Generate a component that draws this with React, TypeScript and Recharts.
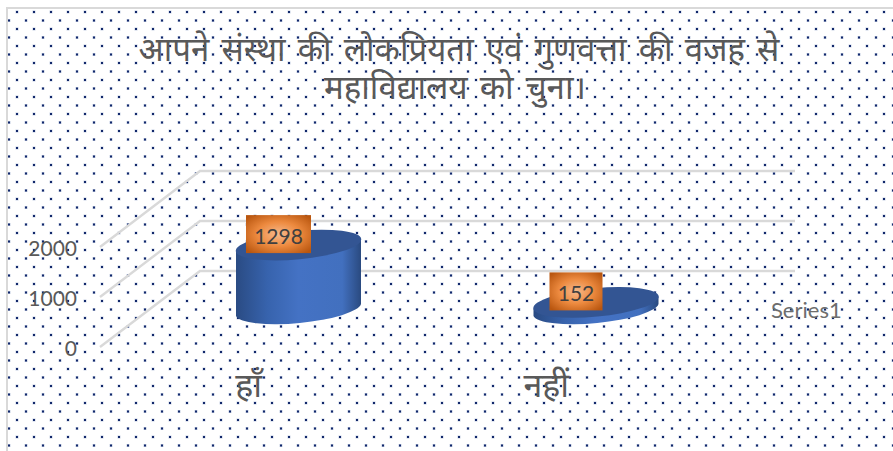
import React from "react";
import { BarChart, Bar, XAxis, YAxis, CartesianGrid, Legend, LabelList } from "recharts";

const categories = ["हाँ", "नहीं"];
const seriesValues = [1298, 152];
const seriesName = "Series1";
const yTicks = [0, 1000, 2000];
const titleLines = ["आपने संस्था की लोकप्रियता एवं गुणवत्ता की वजह से", "महाविद्यालय को चुना।"];

const rows = categories.map((c, i) => ({ category: c, value: seriesValues[i] }));

const FONT = "Lato, 'Noto Sans', 'Noto Sans Devanagari', sans-serif";
const HINDI = "'Noto Sans Devanagari', 'Lohit Devanagari', Mangal, 'Noto Sans', sans-serif";
const DEPTH_X = 100;
const DEPTH_Y = 76;
const TILT = 5.5;
const RY = 14.2;

const dots = encodeURIComponent(
  "<svg xmlns='http://www.w3.org/2000/svg' width='17' height='17'>" +
    "<rect x='7.5' y='2.5' width='3' height='3' fill='#c3cde2'/><rect x='8' y='3' width='2' height='2' fill='#12286b'/>" +
    "<rect x='-0.5' y='11' width='3' height='3' fill='#c3cde2'/><rect x='16.5' y='11' width='3' height='3' fill='#c3cde2'/><rect x='0' y='11.5' width='2' height='2' fill='#12286b'/>" +
    "</svg>"
);

function GridLine(props: any) {
  const { x1, x2, y1 } = props;
  return (
    <path
      d={`M${x1},${y1} L${x1 + DEPTH_X},${y1 - DEPTH_Y} L${x2 + DEPTH_X},${y1 - DEPTH_Y}`}
      fill="none"
      stroke="#d9d9d9"
      strokeWidth={2.4}
    />
  );
}

function YTick(props: any) {
  const { x, y, payload } = props;
  return (
    <text
      x={x}
      y={y}
      textAnchor="end"
      dominantBaseline="central"
      fontFamily={FONT}
      fontSize={21}
      fill="#595959"
    >
      {payload.value}
    </text>
  );
}

function Cylinder(props: any) {
  const { x, y, width, height } = props;
  const cx = x + width / 2 + DEPTH_X / 2;
  const topY = y - DEPTH_Y / 2 + 1;
  const rx = width / 2;
  const dy = rx * Math.tan((TILT * Math.PI) / 180);
  const l = cx - rx;
  const r = cx + rx;
  const side = `M${l},${topY + dy} L${l},${topY + dy + height} A${rx + 0.5},${RY} ${-TILT} 0 0 ${r},${topY - dy + height} L${r},${topY - dy} Z`;
  return (
    <g>
      <path d={side} fill="url(#cylSide)" />
      <ellipse
        cx={cx}
        cy={topY}
        rx={rx + 0.5}
        ry={RY}
        transform={`rotate(${-TILT} ${cx} ${topY})`}
        fill="#335593"
      />
    </g>
  );
}

function ValueBox(props: any) {
  const { x, y, width, value } = props;
  const w = String(value).length > 3 ? 65 : 53;
  const cx = x + width / 2 + DEPTH_X / 2 - 20;
  const cy = y - DEPTH_Y / 2 - 10;
  return (
    <g>
      <rect x={cx - w / 2} y={cy - 19} width={w} height={38} fill="url(#boxFill)" />
      <text
        x={cx}
        y={cy + 1}
        textAnchor="middle"
        dominantBaseline="central"
        fontFamily={FONT}
        fontSize={21}
        fill="#404040"
      >
        {value}
      </text>
    </g>
  );
}

export default function App() {
  return (
    <div
      style={{
        position: "absolute",
        left: 0,
        top: 0,
        width: 893,
        height: 451,
        background: "#fff",
        overflow: "hidden",
      }}
    >
      <div
        style={{
          position: "absolute",
          left: 6,
          top: 7,
          width: 887,
          height: 444,
          boxSizing: "border-box",
          borderLeft: "2px solid #d9d9d9",
          borderTop: "2px solid #d9d9d9",
          backgroundImage: `url("data:image/svg+xml,${dots}")`,
          backgroundPosition: "0px -1px",
        }}
      />
      <div style={{ position: "absolute", left: 0, top: 0 }}>
        <BarChart
          width={893}
          height={451}
          data={rows}
          margin={{ top: 247, right: 198, bottom: 20, left: 0 }}
          barSize={125}
        >
          <defs>
            <linearGradient id="cylSide" x1="0" y1="0" x2="1" y2="0">
              <stop offset="0" stopColor="#2a4b83" />
              <stop offset="0.25" stopColor="#3763ad" />
              <stop offset="0.5" stopColor="#4472c4" />
              <stop offset="0.85" stopColor="#4270bf" />
              <stop offset="1" stopColor="#2a4a80" />
            </linearGradient>
            <radialGradient id="boxFill" cx="0.5" cy="0.5" r="0.65">
              <stop offset="0" stopColor="#f6b98c" />
              <stop offset="0.5" stopColor="#ed8a3f" />
              <stop offset="1" stopColor="#b9560f" />
            </radialGradient>
          </defs>
          <CartesianGrid vertical={false} horizontal={(p: any) => <GridLine key={p.key} {...p} />} />
          <XAxis
            dataKey="category"
            axisLine={false}
            tickLine={false}
            height={60}
            tickMargin={20}
            tick={{ fontFamily: HINDI, fontSize: 34, fill: "#595959" }}
          />
          <YAxis
            width={100}
            domain={[0, 2000]}
            ticks={yTicks}
            axisLine={false}
            tickLine={false}
            tickMargin={17}
            tick={<YTick />}
          />
          <Legend
            layout="vertical"
            content={() => (
              <div style={{ fontFamily: FONT, fontSize: 22, color: "#6e6e6e", lineHeight: "24px" }}>
                {seriesName}
              </div>
            )}
            wrapperStyle={{ position: "absolute", left: 771, top: 298, width: 90, bottom: "auto" }}
          />
          <Bar dataKey="value" name={seriesName} shape={<Cylinder />} isAnimationActive={false}>
            <LabelList dataKey="value" content={<ValueBox />} />
          </Bar>
          <text textAnchor="middle" fontFamily={HINDI} fontSize={33} fill="#595959" wordSpacing={3.5}>
            <tspan x={459} y={61}>
              {titleLines[0]}
            </tspan>
            <tspan x={455} y={99}>
              {titleLines[1]}
            </tspan>
          </text>
        </BarChart>
      </div>
    </div>
  );
}
